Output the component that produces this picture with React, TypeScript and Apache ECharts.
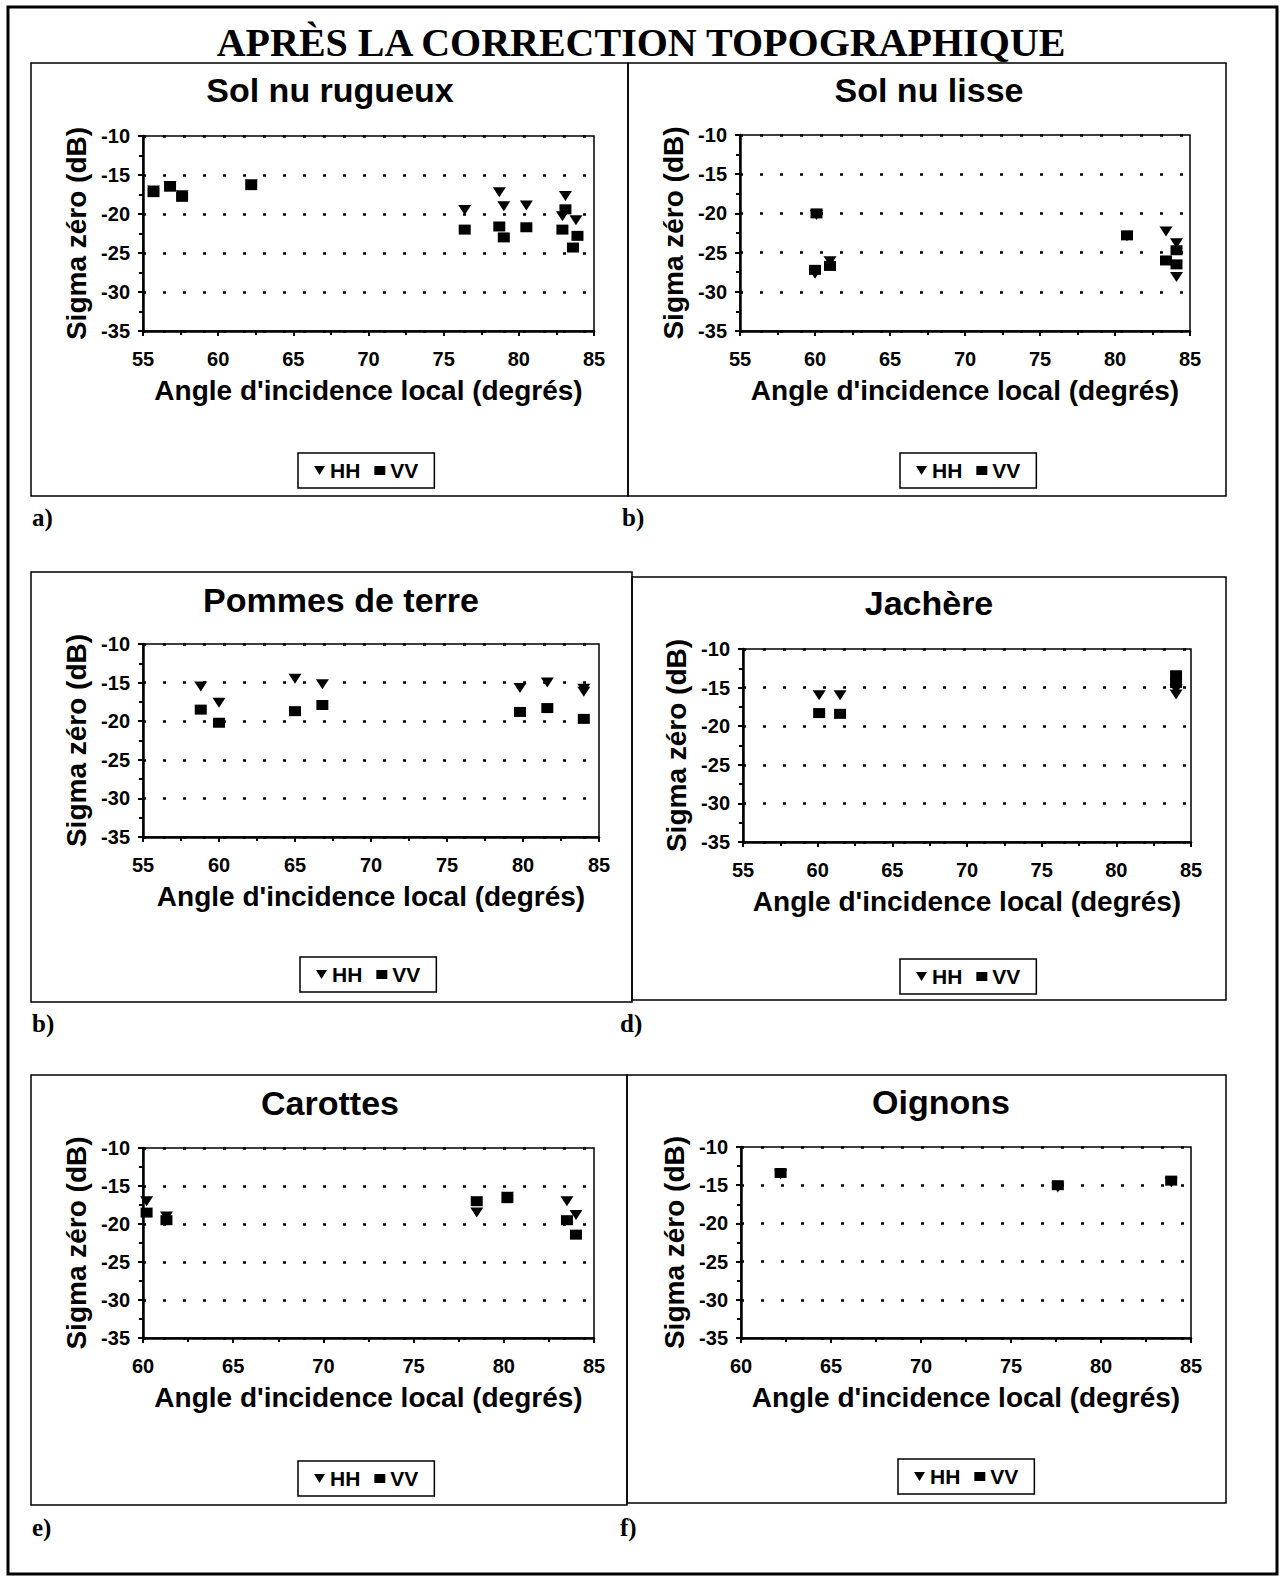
import React, { useEffect, useRef } from "react";
import * as echarts from "echarts";

// ---------- texts ----------
const mainTitle = "APRÈS LA CORRECTION TOPOGRAPHIQUE";
const panelTitles = ["Sol nu rugueux", "Sol nu lisse", "Pommes de terre", "Jachère", "Carottes", "Oignons"];
const panelTags = ["a)", "b)", "b)", "d)", "e)", "f)"];
const yAxisName = "Sigma zéro (dB)";
const xAxisName = "Angle d'incidence local (degrés)";
const seriesNames = ["HH", "VV"];

// ---------- axes ----------
const xMins = [55, 55, 55, 55, 60, 60];
const xMax = 85;
const xInterval = 5;
const yMin = -35;
const yMax = -10;
const yInterval = 5;

// ---------- data: [angle (deg), sigma0 (dB)] ----------
const rugueuxHH = [[55.7, -17.0], [56.8, -16.4], [57.6, -17.6], [62.2, -16.2], [76.4, -19.5], [78.7, -17.2], [79.0, -19.0], [80.5, -18.9], [83.1, -17.7], [82.9, -20.3], [83.8, -20.8]];
const rugueuxVV = [[55.7, -17.2], [56.8, -16.5], [57.6, -17.8], [62.2, -16.3], [76.4, -22.0], [78.7, -21.6], [79.0, -23.0], [80.5, -21.7], [83.1, -19.4], [82.9, -22.0], [83.9, -22.8], [83.6, -24.3]];

const lisseHH = [[60.1, -20.2], [60.0, -27.7], [61.0, -26.1], [80.8, -22.9], [83.4, -22.3], [84.1, -23.8], [84.1, -28.1]];
const lisseVV = [[60.1, -20.0], [60.0, -27.2], [61.0, -26.7], [80.8, -22.8], [84.1, -24.7], [83.4, -26.0], [84.1, -26.5]];

const pommesHH = [[58.8, -15.5], [60.0, -17.6], [65.0, -14.5], [66.8, -15.2], [79.8, -15.7], [81.6, -15.0], [84.0, -15.8], [84.0, -16.2]];
const pommesVV = [[58.8, -18.5], [60.0, -20.2], [65.0, -18.7], [66.8, -17.9], [79.8, -18.8], [81.6, -18.3], [84.0, -19.7]];

const jachereHH = [[60.1, -16.0], [61.5, -16.0], [84.0, -15.9], [84.0, -15.2]];
const jachereVV = [[60.1, -18.3], [61.5, -18.4], [84.0, -13.4], [84.0, -14.4]];

const carottesHH = [[60.2, -17.0], [61.3, -19.0], [78.5, -18.5], [80.2, -16.4], [83.5, -17.0], [84.0, -18.8]];
const carottesVV = [[60.2, -18.5], [61.3, -19.5], [78.5, -17.0], [80.2, -16.6], [83.5, -19.5], [84.0, -21.4]];

const oignonsHH = [[62.2, -13.6], [77.6, -15.3], [83.9, -14.6]];
const oignonsVV = [[62.2, -13.4], [77.6, -15.0], [83.9, -14.4]];

const panelData = [
  [rugueuxHH, rugueuxVV],
  [lisseHH, lisseVV],
  [pommesHH, pommesVV],
  [jachereHH, jachereVV],
  [carottesHH, carottesVV],
  [oignonsHH, oignonsVV],
];

// ---------- layout (pixels) ----------
const grids = [
  { left: 143, top: 136, width: 451, height: 195 },
  { left: 740, top: 135, width: 450, height: 196 },
  { left: 143, top: 644, width: 456, height: 193 },
  { left: 743, top: 649, width: 448, height: 193 },
  { left: 143, top: 1148, width: 451, height: 190 },
  { left: 741, top: 1147, width: 450, height: 191 },
];
const boxes = [
  { x: 31, y: 63, w: 597, h: 433 },
  { x: 628, y: 63, w: 598, h: 433 },
  { x: 31, y: 572, w: 601, h: 430 },
  { x: 632, y: 577, w: 594, h: 423 },
  { x: 31, y: 1075, w: 596, h: 430 },
  { x: 627, y: 1075, w: 599, h: 428 },
];
const titlePos = [[330, 90], [929, 90], [341, 600], [929, 603], [330, 1103], [941, 1102]];
const tagPos = [[32, 517], [622, 517], [32, 1023], [620, 1023], [32, 1527], [620, 1527]];
const legendPos = [[298, 453], [900, 453], [300, 957], [900, 959], [298, 1461], [898, 1459]];

const SANS = '"Liberation Sans", Arial, Helvetica, sans-serif';
const SERIF = '"Liberation Serif", "Times New Roman", serif';
const TRI = "path://M0,0L10,0L5,8Z";
const SQ = "rect";

export default function App() {
  const ref = useRef<HTMLDivElement>(null);

  useEffect(() => {
    if (!ref.current) return;
    const chart = echarts.init(ref.current, undefined, { renderer: "svg" });

    const gridOpts = grids.map((g) => ({
      ...g,
      show: true,
      borderColor: "#000",
      borderWidth: 1.5,
      backgroundColor: "transparent",
    }));

    const xAxes = grids.map((_, i) => ({
      type: "value",
      gridIndex: i,
      min: xMins[i],
      max: xMax,
      interval: xInterval,
      name: xAxisName,
      nameLocation: "middle",
      nameGap: 45,
      nameTextStyle: { fontFamily: SANS, fontSize: 28, fontWeight: "bold", color: "#000" },
      axisLine: { show: true, lineStyle: { color: "#000", width: 2.5 } },
      axisTick: { show: true, length: 5, lineStyle: { color: "#000", width: 2 } },
      minorTick: { show: true, splitNumber: 2, length: 4, lineStyle: { color: "#000", width: 2 } },
      axisLabel: { margin: 18, fontFamily: SANS, fontSize: 20, fontWeight: "bold", color: "#000" },
      splitLine: { show: false },
    }));

    const yAxes = grids.map((_, i) => ({
      type: "value",
      gridIndex: i,
      min: yMin,
      max: yMax,
      interval: yInterval,
      name: yAxisName,
      nameLocation: "middle",
      nameGap: 53,
      nameTextStyle: { fontFamily: SANS, fontSize: 28, fontWeight: "bold", color: "#000" },
      axisLine: { show: true, lineStyle: { color: "#000", width: 2.5 } },
      axisTick: { show: true, length: 5, lineStyle: { color: "#000", width: 2 } },
      minorTick: { show: true, splitNumber: 2, length: 4, lineStyle: { color: "#000", width: 2 } },
      axisLabel: { margin: 13, fontFamily: SANS, fontSize: 20, fontWeight: "bold", color: "#000" },
      splitLine: { show: true, lineStyle: { color: "#000", width: 2.5, type: [3, 17] } },
    }));

    const series: any[] = [];
    panelData.forEach((pair, i) => {
      series.push({
        name: seriesNames[0],
        type: "scatter",
        xAxisIndex: i,
        yAxisIndex: i,
        data: pair[0],
        symbol: TRI,
        symbolSize: [13, 10],
        itemStyle: { color: "#000", opacity: 1 },
        z: 3,
      });
      series.push({
        name: seriesNames[1],
        type: "scatter",
        xAxisIndex: i,
        yAxisIndex: i,
        data: pair[1],
        symbol: SQ,
        symbolSize: [12, 10],
        itemStyle: { color: "#000", opacity: 1 },
        z: 4,
      });
    });

    const legends = legendPos.map(([x, y]) => ({
      left: x,
      top: y,
      orient: "horizontal",
      padding: [7, 16],
      itemGap: 14,
      itemWidth: 11,
      itemHeight: 9,
      borderColor: "#000",
      borderWidth: 1.5,
      selectedMode: false,
      textStyle: { fontFamily: SANS, fontSize: 21, fontWeight: "bold", color: "#000" },
      data: [
        { name: seriesNames[0], icon: TRI },
        { name: seriesNames[1], icon: SQ },
      ],
    }));

    const graphics: any[] = [];
    graphics.push({
      type: "rect",
      shape: { x: 8, y: 7, width: 1269, height: 1567 },
      style: { fill: "none", stroke: "#000", lineWidth: 3 },
      silent: true,
    });
    boxes.forEach((b) => {
      graphics.push({
        type: "rect",
        shape: { x: b.x, y: b.y, width: b.w, height: b.h },
        style: { fill: "none", stroke: "#000", lineWidth: 1.5 },
        silent: true,
      });
    });
    graphics.push({
      type: "text",
      x: 641,
      y: 42,
      style: {
        text: mainTitle,
        fill: "#000",
        fontFamily: SERIF,
        fontSize: 40,
        fontWeight: "bold",
        align: "center",
        verticalAlign: "middle",
        textAlign: "center",
        textVerticalAlign: "middle",
      },
    });
    panelTitles.forEach((t, i) => {
      graphics.push({
        type: "text",
        x: titlePos[i][0],
        y: titlePos[i][1],
        style: {
          text: t,
          fill: "#000",
          fontFamily: SANS,
          fontSize: 34,
          fontWeight: "bold",
          align: "center",
          verticalAlign: "middle",
          textAlign: "center",
          textVerticalAlign: "middle",
        },
      });
    });
    panelTags.forEach((t, i) => {
      graphics.push({
        type: "text",
        x: tagPos[i][0],
        y: tagPos[i][1],
        style: {
          text: t,
          fill: "#000",
          fontFamily: SERIF,
          fontSize: 25,
          fontWeight: "bold",
          align: "left",
          verticalAlign: "middle",
          textAlign: "left",
          textVerticalAlign: "middle",
        },
      });
    });

    chart.setOption({
      animation: false,
      backgroundColor: "#fff",
      grid: gridOpts,
      xAxis: xAxes,
      yAxis: yAxes,
      legend: legends,
      series,
      graphic: { elements: graphics },
    });

    return () => chart.dispose();
  }, []);

  return (
    <div
      ref={ref}
      style={{ position: "absolute", left: 0, top: 0, width: 1284, height: 1580 }}
    />
  );
}
